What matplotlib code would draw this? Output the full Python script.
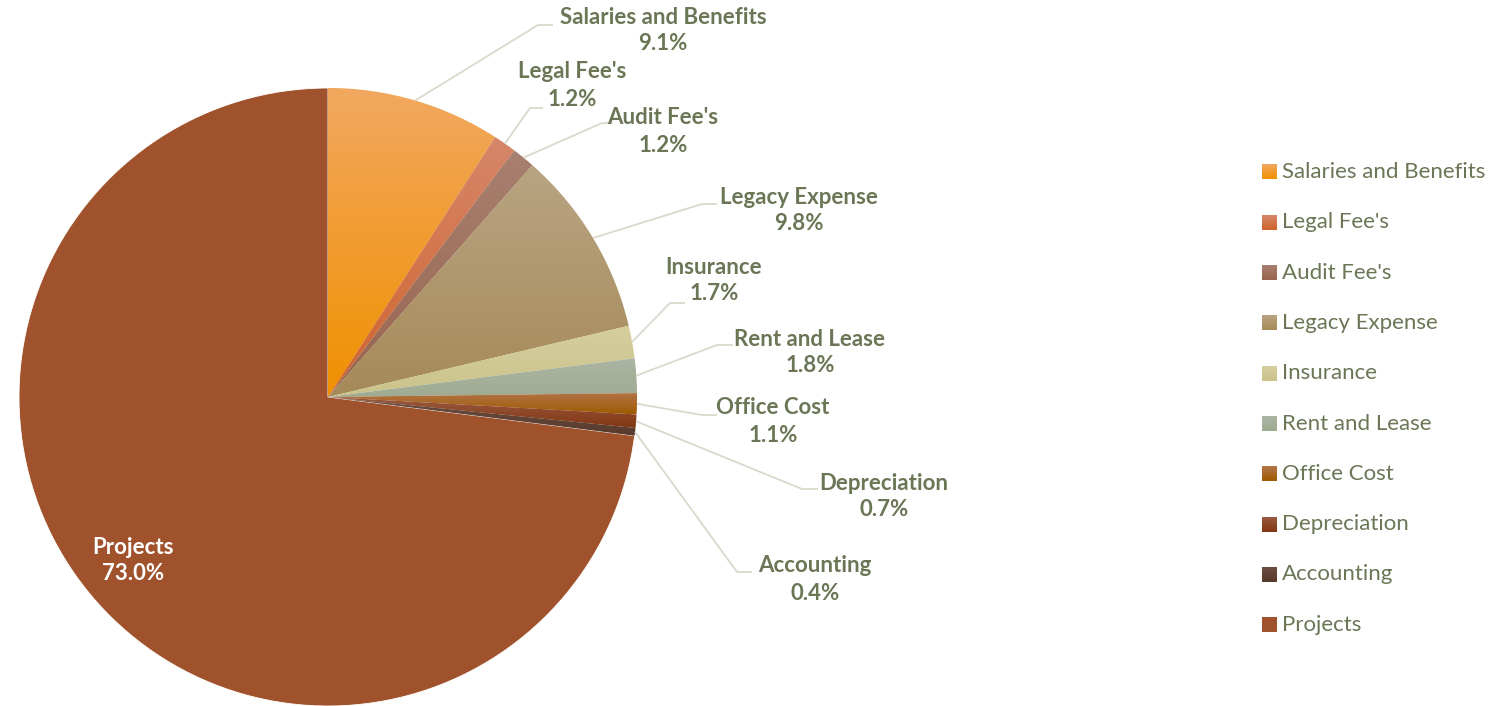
import numpy as np
import matplotlib
matplotlib.use("Agg")
import matplotlib.pyplot as plt
from matplotlib.colors import to_rgb

# --- data ---
categories = ["Salaries and Benefits", "Legal Fee's", "Audit Fee's", "Legacy Expense",
              "Insurance", "Rent and Lease", "Office Cost", "Depreciation",
              "Accounting", "Projects"]
shares = [9.1, 1.2, 1.2, 9.8, 1.7, 1.8, 1.1, 0.7, 0.4, 73.0]

# gradient colours (top, bottom) per slice
top_cols = ["#F2A85F", "#D6866A", "#A88070", "#B9A482", "#D5CF9F",
            "#ABB5A3", "#B3744A", "#9A5A40", "#6B4E40", "#A0522D"]
bot_cols = ["#F09000", "#D0642C", "#98654E", "#A68A58", "#CBC38A",
            "#A0AB92", "#9E5B00", "#823712", "#583A2C", "#A0522D"]

TXT = "#6A7655"
LEAD = "#D9D9CC"
W, H = 1501, 706


def gradient(ct, cb, n=64):
    t = np.linspace(0, 1, n)[:, None]
    g = (1 - t) * np.array(to_rgb(ct)) + t * np.array(to_rgb(cb))
    return g[:, None, :].repeat(2, axis=1)


fig = plt.figure(figsize=(W / 100, H / 100), dpi=100)
ax = fig.add_axes([0, 0, 1, 1])

cx, cy, R = 328, H - 397, 309
wedges, _ = ax.pie(shares, colors=bot_cols, startangle=90, counterclock=False,
                   center=(cx, cy), radius=R,
                   wedgeprops=dict(edgecolor="white", linewidth=0.6))

# vertical gradient fill clipped to each wedge
for w, ct, cb in zip(wedges, top_cols, bot_cols):
    if ct == cb:
        continue
    th = np.linspace(np.radians(w.theta1), np.radians(w.theta2), 50)
    ys = np.concatenate([[cy], cy + R * np.sin(th)])
    xs = np.concatenate([[cx], cx + R * np.cos(th)])
    im = ax.imshow(gradient(ct, cb), origin="upper",
                   extent=[xs.min(), xs.max(), ys.min(), ys.max()],
                   interpolation="bilinear", zorder=w.get_zorder(), aspect="auto")
    im.set_clip_path(w)

# --- outside labels: (label centre x, first line y, elbow x, elbow y, end x) in px ---
lab_pos = [(663, 17, 538, 25, 553), (572, 72, 530, 108, 543), (663, 118, 602, 123, 613),
           (799, 197, 702, 204, 717), (714, 267, 670, 303, 685), (810, 339, 717, 345, 733),
           (773, 408, 702, 415, 717), (884, 483, 802, 489, 818), (815, 566, 737, 572, 752)]
fs = dict(fontsize=16, fontweight="bold", family="Lato", ha="center", va="center", zorder=5)

for w, name, val, (lx, ly, ex, ey, tx) in zip(wedges, categories, shares, lab_pos):
    mid = np.radians((w.theta1 + w.theta2) / 2)
    sx, sy = cx + R * np.cos(mid), cy + R * np.sin(mid)
    ax.plot([sx, ex, tx], [sy, H - ey, H - ey], color=LEAD, lw=1.3, zorder=1,
            solid_capstyle="butt")
    ax.text(lx, H - ly, name, color=TXT, **fs)
    ax.text(lx, H - ly - 27, f"{val:.1f}%", color=TXT, **fs)

ax.text(133, H - 547, categories[-1], color="white", **fs)
ax.text(133, H - 574, f"{shares[-1]:.1f}%", color="white", **fs)

# --- legend ---
for i, (name, ct, cb) in enumerate(zip(categories, top_cols, bot_cols)):
    y = H - (172 + i * 50.3)
    ax.imshow(gradient(ct, cb, 16), origin="upper", extent=[1262, 1277, y - 7.5, y + 7.5],
              interpolation="bilinear", aspect="auto", zorder=3)
    ax.text(1282, y, name, ha="left", va="center", fontsize=16, color=TXT,
            family="Lato")

ax.set_xlim(0, W)
ax.set_ylim(0, H)
ax.set_aspect("auto")
ax.axis("off")

fig.savefig("out.png", dpi=100)
